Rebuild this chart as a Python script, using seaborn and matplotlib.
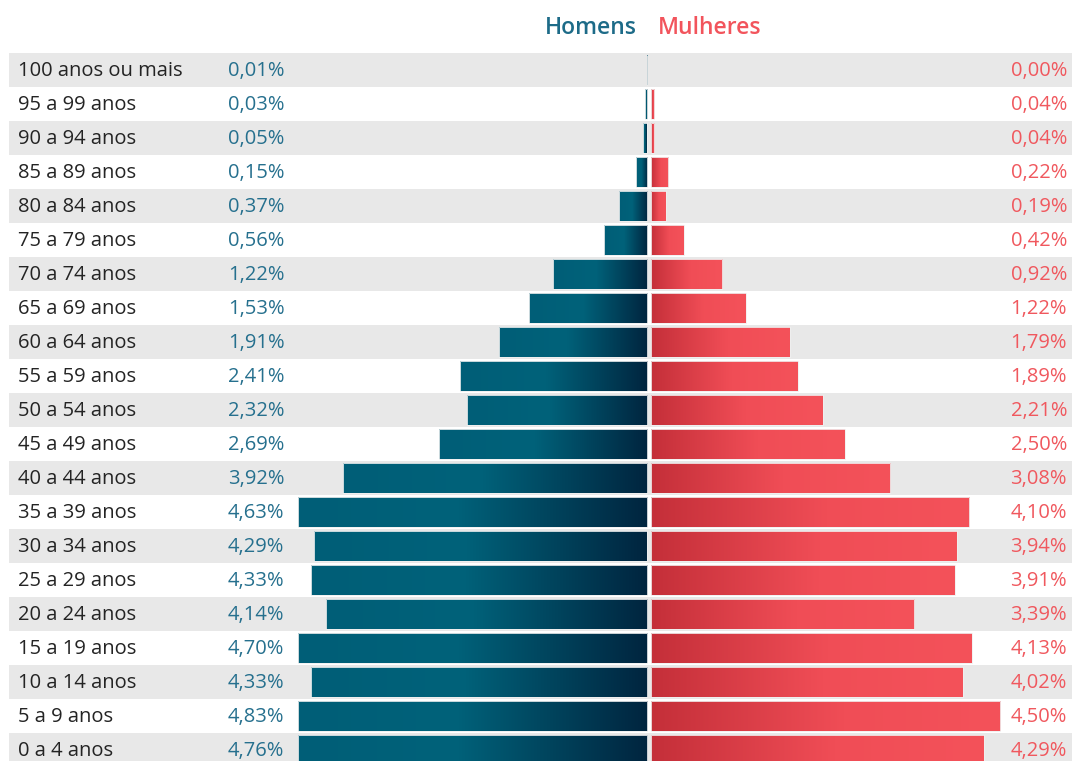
import numpy as np
import pandas as pd
import matplotlib
matplotlib.use('Agg')
import matplotlib.pyplot as plt
from matplotlib.colors import LinearSegmentedColormap
import seaborn as sns

ages = ['100 anos ou mais', '95 a 99 anos', '90 a 94 anos', '85 a 89 anos', '80 a 84 anos',
        '75 a 79 anos', '70 a 74 anos', '65 a 69 anos', '60 a 64 anos', '55 a 59 anos',
        '50 a 54 anos', '45 a 49 anos', '40 a 44 anos', '35 a 39 anos', '30 a 34 anos',
        '25 a 29 anos', '20 a 24 anos', '15 a 19 anos', '10 a 14 anos', '5 a 9 anos', '0 a 4 anos']
homens = [0.01, 0.03, 0.05, 0.15, 0.37, 0.56, 1.22, 1.53, 1.91, 2.41, 2.32,
          2.69, 3.92, 4.63, 4.29, 4.33, 4.14, 4.70, 4.33, 4.83, 4.76]
mulheres = [0.00, 0.04, 0.04, 0.22, 0.19, 0.42, 0.92, 1.22, 1.79, 1.89, 2.21,
            2.50, 3.08, 4.10, 3.94, 3.91, 3.39, 4.13, 4.02, 4.50, 4.29]
axis_max = 4.5  # men's bars are cut at the scale maximum

W, H = 1072, 761
sns.set_theme(style='white')
plt.rcParams['font.family'] = ['Open Sans', 'DejaVu Sans']

df = pd.DataFrame({
    'idade': ages * 2,
    'sexo': ['Homens'] * len(ages) + ['Mulheres'] * len(ages),
    'valor': [-min(v, axis_max) for v in homens] + mulheres,
})

fig = plt.figure(figsize=(W / 100, H / 100), dpi=100)
ax = fig.add_axes([0, 0, 1, 1])

# alternating row bands
for i in range(0, len(ages), 2):
    ax.axhspan(i - 0.5, i + 0.5, xmin=9 / W, xmax=1, facecolor='#e8e8e8', zorder=0, lw=0)

sns.barplot(data=df, y='idade', x='valor', hue='sexo', order=ages, dodge=False,
            orient='h', width=0.9, legend=False, ax=ax, zorder=2,
            palette={'Homens': '#005f78', 'Mulheres': '#e8464f'})

px = 77.6
zero = 649.2
gap = 1.9 / px  # small white gap on both sides of the centre

cm_h = LinearSegmentedColormap.from_list('h', [(0, '#005e77'), (0.45, '#00627a'), (1, '#00253f')])
cm_m = LinearSegmentedColormap.from_list('m', [(0, '#c42f39'), (0.55, '#f04d56'), (1, '#f4525a')])
grad = np.linspace(0, 1, 256).reshape(1, -1)
bars = [p for c in ax.containers for p in c]
for p in bars:
    w = p.get_width()
    if w == 0:
        p.set_visible(False)
        continue
    p.set_x(-gap if w < 0 else gap)
    x0, x1 = sorted([p.get_x(), p.get_x() + w])
    y0, y1 = p.get_y(), p.get_y() + p.get_height()
    cmap = cm_h if w < 0 else cm_m
    im = ax.imshow(grad, cmap=cmap, extent=[x0, x1, y1, y0], aspect='auto',
                   interpolation='bilinear', zorder=2.5)
    im.set_clip_path(p)
    p.set_facecolor('none')
    p.set_edgecolor('#f0f0f0')
    p.set_linewidth(0.6)
    p.set_zorder(3)

ax.set_xlim(-zero / px, (W - zero) / px)
ax.set_ylim((H - 70) / 34, -70 / 34)
ax.axis('off')

tr = ax.get_yaxis_transform()
for i, age in enumerate(ages):
    yb = i + 0.18
    ax.text(18 / W, yb, age, transform=tr, ha='left', va='baseline',
            fontsize=14.5, fontweight='medium', color='#242424')
    ax.text(228 / W, yb, f'{homens[i]:.2f}%'.replace('.', ','), transform=tr,
            ha='left', va='baseline', fontsize=14.5, color='#26708e')
    ax.text(1067 / W, yb, f'{mulheres[i]:.2f}%'.replace('.', ','), transform=tr,
            ha='right', va='baseline', fontsize=14.5, color='#f0585e')

fig.text(637 / W, 1 - 28 / H, 'Homens', ha='right', va='center', fontsize=16.5,
         fontweight='semibold', color='#1d6b88')
fig.text(658 / W, 1 - 28 / H, 'Mulheres', ha='left', va='center', fontsize=16.5,
         fontweight='semibold', color='#f2545c')

fig.savefig('out.png', dpi=100)
